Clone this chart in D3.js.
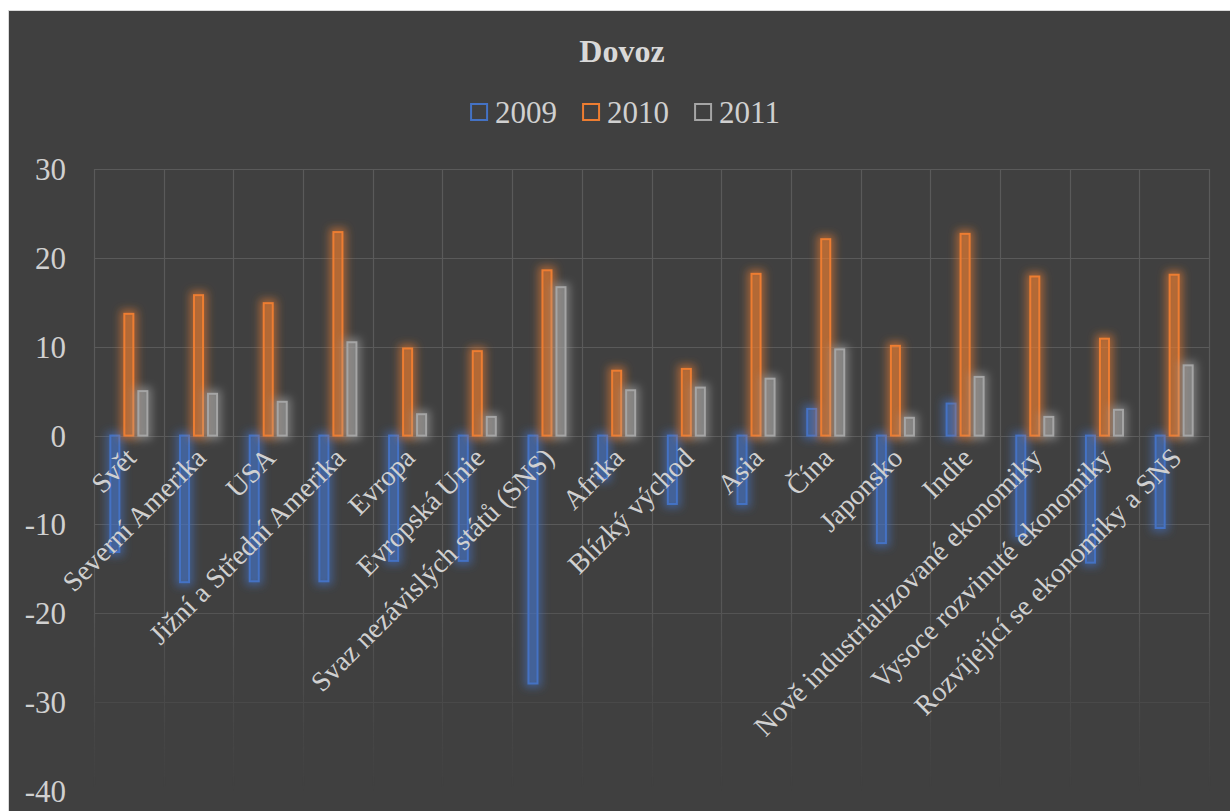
<!DOCTYPE html>
<html>
<head>
<meta charset="utf-8">
<script src="https://cdn.jsdelivr.net/npm/d3@7"></script>
<style>
  html, body { margin: 0; padding: 0; background: #ffffff; }
  svg { display: block; font-family: 'Liberation Serif', 'Times New Roman', serif; }
  svg text { font-family: 'Liberation Serif', 'Times New Roman', serif; }
</style>
</head>
<body>
<svg id="chart" width="1230" height="811"></svg>
<script>
// Import growth by region (% change)
const categories = [
  "Svět", "Severní Amerika", "USA", "Jižní a Střední Amerika", "Evropa",
  "Evropská Unie", "Svaz nezávislých států (SNS)", "Afrika", "Blízký východ",
  "Asia", "Čína", "Japonsko", "Indie", "Nově industrializované ekonomiky",
  "Vysoce rozvinuté ekonomiky", "Rozvíjející se ekonomiky a SNS"
];
const seriesNames = ["2009", "2010", "2011"];
const values2009 = [-13.1, -16.5, -16.4, -16.4, -14.1, -14.1, -27.9, -4.8, -7.7, -7.7, 3.0, -12.1, 3.6, -11.3, -14.3, -10.4];
const values2010 = [13.7, 15.8, 14.9, 22.9, 9.8, 9.5, 18.6, 7.3, 7.5, 18.2, 22.1, 10.1, 22.7, 17.9, 10.9, 18.1];
const values2011 = [5.0, 4.7, 3.8, 10.5, 2.4, 2.1, 16.7, 5.1, 5.4, 6.4, 9.7, 2.0, 6.6, 2.1, 2.9, 7.9];
const yTicks = [30, 20, 10, 0, -10, -20, -30, -40];
const seriesColors = ["#4472C4", "#ED7D31", "#A5A5A5"];

const series = [values2009, values2010, values2011];
const FONT = "'Liberation Serif', 'Times New Roman', serif";

const svg = d3.select("#chart");
const W = 1230, H = 811;
const plot = { left: 94, right: 1209, top: 169, bottom: 791 };

// chart background
svg.append("rect")
  .attr("x", 8.5).attr("y", 10.5)
  .attr("width", W - 8).attr("height", H - 10)
  .attr("fill", "#404040")
  .attr("stroke", "#d9d9d9").attr("stroke-width", 1);

const defs = svg.append("defs");

// glow filters, one per series colour
seriesColors.forEach((c, i) => {
  const f = defs.append("filter").attr("id", "glow" + i)
    .attr("x", "-100%").attr("y", "-20%").attr("width", "300%").attr("height", "140%");
  f.append("feMorphology").attr("in", "SourceAlpha").attr("operator", "dilate").attr("radius", 2.5).attr("result", "d");
  f.append("feGaussianBlur").attr("in", "d").attr("stdDeviation", 4).attr("result", "b");
  f.append("feFlood").attr("flood-color", c).attr("flood-opacity", 0.6).attr("result", "fl");
  f.append("feComposite").attr("in", "fl").attr("in2", "b").attr("operator", "in").attr("result", "g");
  const m = f.append("feMerge");
  m.append("feMergeNode").attr("in", "g");
  m.append("feMergeNode").attr("in", "SourceGraphic");
});

// fading mask for the lower part of the grid
const grad = defs.append("linearGradient").attr("id", "gridFade")
  .attr("gradientUnits", "userSpaceOnUse")
  .attr("x1", 0).attr("x2", 0).attr("y1", plot.top).attr("y2", plot.bottom);
[[0, 1], [0.57, 1], [0.71, 0.85], [0.72, 0.75], [0.86, 0.35], [1, 0]].forEach(([o, a]) =>
  grad.append("stop").attr("offset", o).attr("stop-color", "#fff").attr("stop-opacity", a));
defs.append("mask").attr("id", "gridMask")
  .append("rect").attr("x", 0).attr("y", 0).attr("width", W).attr("height", H)
  .attr("fill", "url(#gridFade)");

const x = d3.scaleBand().domain(categories).range([plot.left, plot.right]).padding(0);
const bw = x.bandwidth();
const x1 = d3.scaleBand().domain(seriesNames)
  .range([bw / 2 - 21, bw / 2 + 21]).paddingInner(3 / 14).paddingOuter(3 / 28);
const y = d3.scaleLinear().domain([-40, 30]).range([plot.bottom, plot.top]);

// gridlines
const grid = svg.append("g").attr("mask", "url(#gridMask)")
  .attr("stroke", "#5a5a5a").attr("stroke-width", 1.2);
grid.selectAll("line.h").data(yTicks).join("line")
  .attr("x1", plot.left).attr("x2", plot.right)
  .attr("y1", d => Math.round(y(d)) + 0.5).attr("y2", d => Math.round(y(d)) + 0.5);
const bounds = categories.map(c => x(c)).concat([plot.right]);
grid.selectAll("line.v").data(bounds).join("line")
  .attr("x1", d => Math.round(d) + 0.5).attr("x2", d => Math.round(d) + 0.5)
  .attr("y1", plot.top).attr("y2", plot.bottom);

// y axis labels
const yAxis = svg.append("g").attr("transform", `translate(${plot.left - 28},0)`)
  .call(d3.axisLeft(y).tickValues(yTicks).tickSize(0).tickPadding(0).tickFormat(d => String(d)));
yAxis.attr("font-family", FONT).attr("font-size", 31);
yAxis.select(".domain").remove();
yAxis.selectAll("text")
  .attr("fill", "#d0d0d0")
  .attr("dy", "0.34em");

// bars
const barsG = svg.append("g");
series.forEach((vals, si) => {
  const g = barsG.append("g").attr("filter", `url(#glow${si})`);
  g.selectAll("rect").data(vals.map((v, i) => ({ cat: categories[i], v }))).join("rect")
    .attr("x", d => x(d.cat) + x1(seriesNames[si]) + 1)
    .attr("width", x1.bandwidth() - 2)
    .attr("y", d => Math.min(y(d.v), y(0)))
    .attr("height", d => Math.abs(y(d.v) - y(0)))
    .attr("fill", seriesColors[si]).attr("fill-opacity", 0.28)
    .attr("stroke", seriesColors[si]).attr("stroke-width", 2);
});

// category labels
const xAxis = svg.append("g").attr("transform", `translate(0,${y(0)})`)
  .call(d3.axisBottom(x).tickSize(0));
xAxis.attr("font-family", FONT).attr("font-size", 28);
xAxis.select(".domain").remove();
xAxis.selectAll("text")
  .attr("fill", "#d0d0d0")
  .attr("x", 0).attr("y", 0).attr("dy", 0)
  .attr("text-anchor", "end")
  .attr("transform", "translate(9,24) rotate(-45)");

// title
svg.append("text")
  .attr("x", 622).attr("y", 62)
  .attr("text-anchor", "middle")
  .attr("fill", "#d9d9d9")
  .attr("font-family", FONT)
  .attr("font-size", 32).attr("font-weight", "bold")
  .text("Dovoz");

// legend
const legend = svg.append("g").attr("font-family", FONT).attr("font-size", 31);
let lx = 0;
seriesNames.forEach((name, i) => {
  const item = legend.append("g").attr("transform", `translate(${lx},0)`);
  item.append("rect").attr("x", 1).attr("y", -19).attr("width", 16).attr("height", 16)
    .attr("fill", "none").attr("stroke", seriesColors[i]).attr("stroke-width", 2);
  const t = item.append("text").attr("x", 25).attr("y", 0)
    .attr("fill", "#d0d0d0")
    .text(name);
  lx += 25 + t.node().getComputedTextLength() + 25;
});
const legendWidth = lx - 25;
legend.attr("transform", `translate(${625 - legendWidth / 2},123)`);
</script>
</body>
</html>
